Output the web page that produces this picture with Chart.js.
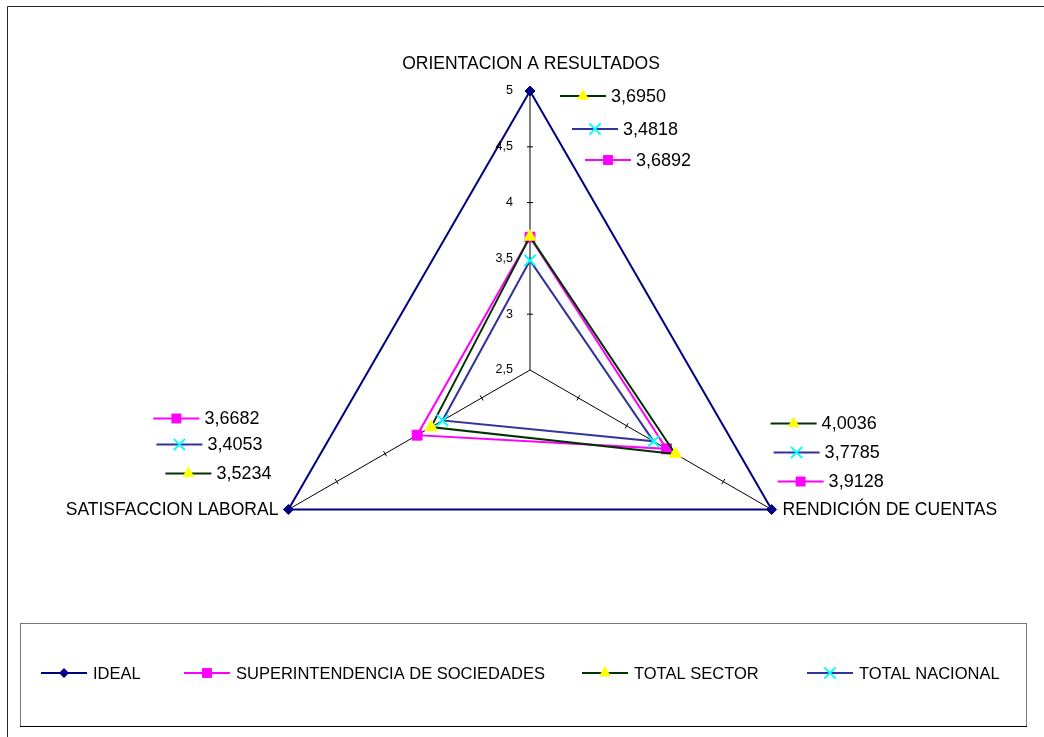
<!DOCTYPE html>
<html>
<head>
<meta charset="utf-8">
<script src="https://cdn.jsdelivr.net/npm/chart.js@4.4.1/dist/chart.umd.min.js"></script>
<style>
  html, body { margin: 0; padding: 0; background: #fff; }
  canvas { display: block; }
</style>
</head>
<body>
<canvas id="stage" width="1044" height="737"></canvas>
<script>
// datos del grafico
const categories = ['ORIENTACION A RESULTADOS', 'RENDICIÓN DE CUENTAS', 'SATISFACCION LABORAL'];
const seriesNames = ['IDEAL', 'SUPERINTENDENCIA DE SOCIEDADES', 'TOTAL SECTOR', 'TOTAL NACIONAL'];
const ideal = [5, 5, 5];
const superintendencia = [3.6892, 3.9128, 3.6682];
const totalSector = [3.6950, 4.0036, 3.5234];
const totalNacional = [3.4818, 3.7785, 3.4053];
const tickValues = [2.5, 3, 3.5, 4, 4.5, 5];
const tickLabels = ['2,5', '3', '3,5', '4', '4,5', '5'];

const FONT = "'Liberation Sans', Arial, sans-serif";

// estilo de cada serie: linea, marcador
const styles = [
  {line: '#000080', shape: 'diamond', fill: '#000080', stroke: '#000080', r: 5},
  {line: '#FF00FF', shape: 'square', fill: '#FF00FF', stroke: '#FF00FF', r: 7},
  {line: '#003300', shape: 'triangle', fill: '#FFFF00', stroke: '#FFFF00', r: 7},
  {line: '#333399', shape: 'cross', fill: '#00FFFF', stroke: '#00FFFF', r: 8}
];
const chartStyles = {diamond: 'rectRot', square: 'rect', triangle: 'triangle', cross: 'crossRot'};

// donde van las etiquetas de valor (respecto al vertice exterior de cada eje)
const labelSpots = {
  1: [[55, 69], [6, -28], [-135, -91]],
  2: [[30, 5], [-1, -86], [-123, -36]],
  3: [[42, 38], [2, -57], [-132, -65]]
};
// nombres de los ejes
const axisLabelSpots = [
  {dx: 1, dy: -27, align: 'center'},
  {dx: 11, dy: 1, align: 'left'},
  {dx: -10, dy: 1, align: 'right'}
];
const legendX = [41, 184, 582, 807];

function fmt(v) {
  return v.toFixed(4).replace('.', ',');
}

function drawMarker(ctx, st, x, y) {
  const r = st.r;
  ctx.save();
  ctx.fillStyle = st.fill;
  ctx.strokeStyle = st.stroke;
  ctx.lineWidth = 1;
  ctx.beginPath();
  if (st.shape == 'diamond') {
    ctx.moveTo(x, y - r); ctx.lineTo(x + r, y); ctx.lineTo(x, y + r); ctx.lineTo(x - r, y);
    ctx.closePath(); ctx.fill();
  } else if (st.shape == 'square') {
    const s = r * Math.SQRT1_2;
    ctx.rect(x - s, y - s, 2 * s, 2 * s); ctx.fill();
  } else if (st.shape == 'triangle') {
    for (let k = 0; k < 3; k++) {
      const a = k * 2 * Math.PI / 3;
      const px = x + Math.sin(a) * r, py = y - Math.cos(a) * r;
      if (k == 0) ctx.moveTo(px, py); else ctx.lineTo(px, py);
    }
    ctx.closePath(); ctx.fill();
  } else {
    const s = r * Math.SQRT1_2;
    ctx.lineWidth = 2;
    ctx.moveTo(x - s, y - s); ctx.lineTo(x + s, y + s);
    ctx.moveTo(x + s, y - s); ctx.lineTo(x - s, y + s);
    ctx.stroke();
  }
  ctx.restore();
}

function drawKey(ctx, st, x, y) {
  ctx.save();
  ctx.strokeStyle = st.line;
  ctx.lineWidth = 2;
  ctx.beginPath();
  ctx.moveTo(x, y); ctx.lineTo(x + 46, y);
  ctx.stroke();
  ctx.restore();
  drawMarker(ctx, st, x + 23, y);
}

const excelBits = {
  id: 'excelBits',
  beforeDraw(chart) {
    const ctx = chart.ctx;
    ctx.save();
    // marco exterior
    ctx.strokeStyle = '#222';
    ctx.lineWidth = 1;
    ctx.beginPath();
    ctx.moveTo(7.5, 737); ctx.lineTo(7.5, 6.5); ctx.lineTo(1044, 6.5);
    ctx.stroke();
    ctx.restore();
  },
  beforeDatasetsDraw(chart) {
    const ctx = chart.ctx;
    const scale = chart.scales.r;
    ctx.save();
    ctx.strokeStyle = '#000';
    ctx.lineWidth = 1;
    for (let i = 0; i < categories.length; i++) {
      const a = scale.getIndexAngle(i) - Math.PI / 2;
      const nx = -Math.sin(a), ny = Math.cos(a);
      scale.ticks.forEach((t, k) => {
        if (k == 0) return;
        const p = scale.getPointPositionForValue(i, t.value);
        ctx.beginPath();
        ctx.moveTo(p.x - nx * 3, p.y - ny * 3);
        ctx.lineTo(p.x + nx * 3, p.y + ny * 3);
        ctx.stroke();
      });
    }
    ctx.restore();
  },
  afterDraw(chart) {
    const ctx = chart.ctx;
    const scale = chart.scales.r;
    ctx.save();
    ctx.fillStyle = '#000';

    // etiquetas del eje
    ctx.font = '12.5px ' + FONT;
    ctx.textAlign = 'right';
    ctx.textBaseline = 'middle';
    scale.ticks.forEach((t, k) => {
      const p = scale.getPointPositionForValue(0, t.value);
      ctx.fillText(t.label || tickLabels[k], p.x - 17, p.y);
    });

    // nombres de los ejes
    ctx.font = '17.5px ' + FONT;
    categories.forEach((c, i) => {
      const p = scale.getPointPositionForValue(i, scale.max);
      const s = axisLabelSpots[i];
      ctx.textAlign = s.align;
      ctx.fillText(c, p.x + s.dx, p.y + s.dy);
    });

    // etiquetas de valor con su clave
    ctx.textAlign = 'left';
    ctx.font = '18px ' + FONT;
    chart.data.datasets.forEach((ds, d) => {
      if (!labelSpots[d]) return;
      ds.data.forEach((v, i) => {
        const p = scale.getPointPositionForValue(i, scale.max);
        const x = p.x + labelSpots[d][i][0];
        const y = p.y + labelSpots[d][i][1];
        drawKey(ctx, styles[d], x, y);
        ctx.fillStyle = '#000';
        ctx.fillText(fmt(v), x + 51, y + 1);
      });
    });

    // leyenda
    ctx.strokeStyle = '#777';
    ctx.lineWidth = 1;
    ctx.strokeRect(20.5, 623.5, 1006, 103);
    ctx.strokeStyle = '#000';
    ctx.beginPath();
    ctx.moveTo(20, 726.5); ctx.lineTo(1027, 726.5);
    ctx.stroke();
    ctx.font = '16.5px ' + FONT;
    seriesNames.forEach((n, d) => {
      drawKey(ctx, styles[d], legendX[d], 673);
      ctx.fillStyle = '#000';
      ctx.fillText(n, legendX[d] + 52, 674);
    });
    ctx.restore();
  }
};

const seriesData = [ideal, superintendencia, totalSector, totalNacional];

const datasets = seriesData.map((vals, d) => ({
  label: seriesNames[d],
  data: vals,
  fill: false,
  borderColor: styles[d].line,
  borderWidth: 2,
  pointStyle: chartStyles[styles[d].shape],
  pointRadius: styles[d].r,
  pointHoverRadius: styles[d].r,
  pointBackgroundColor: styles[d].fill,
  pointBorderColor: styles[d].stroke,
  pointBorderWidth: styles[d].shape == 'cross' ? 2 : 1,
  order: seriesData.length - d
}));

new Chart(document.getElementById('stage'), {
  type: 'radar',
  data: {labels: categories, datasets: datasets},
  options: {
    responsive: false,
    animation: false,
    events: [],
    layout: {padding: {left: 251, right: 235, top: 91, bottom: 88}},
    plugins: {
      legend: {display: false},
      tooltip: {enabled: false}
    },
    elements: {line: {tension: 0}},
    scales: {
      r: {
        min: tickValues[0],
        max: tickValues[tickValues.length - 1],
        ticks: {
          display: false,
          stepSize: 0.5,
          callback: (v, i) => tickLabels[i]
        },
        grid: {display: false},
        angleLines: {display: true, color: '#000', lineWidth: 1},
        pointLabels: {display: false}
      }
    }
  },
  plugins: [excelBits]
});
</script>
</body>
</html>
